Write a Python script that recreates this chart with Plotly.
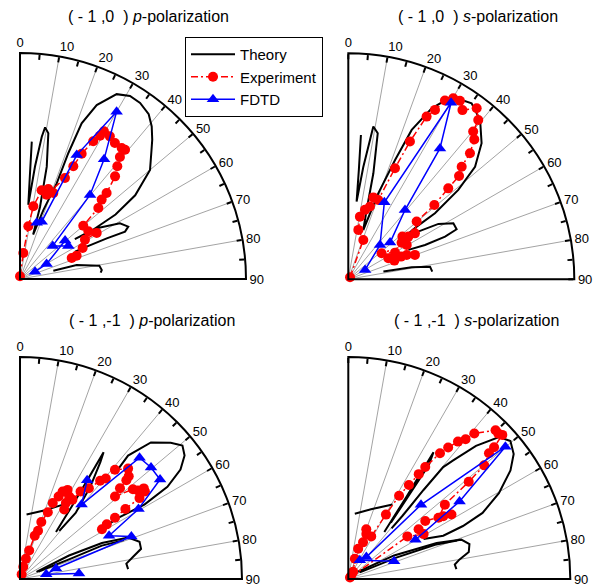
import plotly.graph_objects as go

# ---------------- data (theta in degrees from vertical, r normalised) ----------------
N = None
# Panel 1 : (-1,0) p-polarization
P1_THEORY_THETA = [4.9, 5.4, 6.4, 7.6, 8.7, 9.4, 11.0, 13.4, 15.5, 16.5, 18.7, 21.0, 21.0, 21.6, 23.8, 27.6, 31.0, 34.3, 38.0,
                   40.8, 43.5, 45.5, 50.0, 54.0, 56.0, 56.0, 54.0, 56.5, 60.9, 64.2, 65.7, 64.9, 64.1, 63.6, N,
                   76.0, 76.1, 80.5, 83.7, 85.5]
P1_THEORY_R = [0.610, 0.470, 0.330, 0.502, 0.637, 0.680, 0.657, 0.511, 0.332, 0.205, 0.322, 0.453, 0.596, 0.741, 0.841, 0.923,
               0.945, 0.943, 0.925, 0.892, 0.850, 0.816, 0.751, 0.630, 0.510, 0.390, 0.300, 0.407, 0.506, 0.532, 0.510,
               0.424, 0.328, 0.272, N, 0.152, 0.258, 0.356, 0.364, 0.358]
P1_EXP_THETA = [0, 7.3, 9.0, 10.4, 13.7, 17.5, 21.2, 17.5, 24.0, 25.3, 26.2, 28.0, 29.2, 29.6, 32.2, 34.9, 37.8, 39.1, 39.3,
                40.8, 42.8, 45.2, 45.8, 47.8, 49.9, 55.1, 59.0, 58.8, 63.7, 67.6, 67.9]
P1_EXP_R = [0.012, 0.116, 0.236, 0.327, 0.404, 0.417, 0.408, 0.391, 0.489, 0.552, 0.618, 0.690, 0.726, 0.752, 0.746, 0.734,
            0.734, 0.737, 0.698, 0.659, 0.619, 0.540, 0.504, 0.468, 0.366, 0.369, 0.396, 0.336, 0.309, 0.271, 0.247]
P1_FDTD_THETA = [16.5, 20.7, 24.6, 30.0, 35.1, 39.8, 44.7, 55.7, 49.6, 60.6, 63.9]
P1_FDTD_R = [0.260, 0.271, 0.603, 0.855, 0.647, 0.484, 0.206, 0.259, 0.262, 0.135, 0.074]

# Panel 2 : (-1,0) s-polarization
P2_THEORY_THETA = [5.0, 5.5, 6.1, 7.6, 9.3, 11.4, 13.3, 14.8, 16.9, 19.2, 21.4, 23.0, 26.0, 29.5, 35.0, 39.6, 44.4, 48.4,
                   50.9, 52.7, 52.4, 53.0, 58.4, 61.9, 65.2, 66.2, 65.9, 63.9, N, 77.6, 79.3, 81.2, 84.8]
P2_THEORY_R = [0.641, 0.490, 0.346, 0.500, 0.685, 0.659, 0.482, 0.317, 0.228, 0.403, 0.567, 0.718, 0.842, 0.929, 0.951,
               0.915, 0.843, 0.750, 0.627, 0.482, 0.382, 0.314, 0.468, 0.527, 0.528, 0.468, 0.372, 0.296, N,
               0.159, 0.285, 0.366, 0.373]
P2_EXP_THETA = [40, 20.9, 11.5, 10.5, 13.5, 16.6, 17.0, 20.7, 22.8, 24.1, 25.7, 27.1, 28.4, 30.1, 32.0, 34.0, 36.9, 39.2,
                40.2, 42.0, 44.0, 45.2, 47.0, 47.7, 49.2, 49.8, 55.4, 54.6, 51.7, 55.5, 59.5, 52.0, 60.3, 62.3, 67.9,
                66.7, 67.4, 69.9]
P2_EXP_R = [0.012, 0.186, 0.223, 0.282, 0.316, 0.336, 0.379, 0.375, 0.533, 0.668, 0.799, 0.842, 0.899, 0.926, 0.932, 0.903,
            0.946, 0.910, 0.856, 0.833, 0.775, 0.707, 0.670, 0.598, 0.503, 0.396, 0.358, 0.326, 0.305, 0.286, 0.300,
            0.187, 0.238, 0.200, 0.220, 0.254, 0.280, 0.314]
P2_FDTD_THETA = [60.8, 42.7, 25.1, 30.2, 35.0, 39.3, 48.7]
P2_FDTD_R = [0.085, 0.207, 0.376, 0.904, 0.707, 0.396, 0.246]

# Panel 3 : (-1,-1) p-polarization
P3_THEORY_THETA = [5.8, 20.0, 33.0, N, 37.4, 35.5, 34.4, 33.4, 34.5, 37.3, 40.1, 39.2, N,
                   42.0, 41.2, 43.8, 47.9, 50.6, 53.1, 55.7, 58.0, 59.1, 58.1, 58.5, N,
                   66.3, 64.4, 66.3, 69.0, 72.7, 76.0, 79.0, 81.8, 84.8, N, 68.0, 68.2, 67.8, 69.5]
P3_THEORY_R = [0.292, 0.330, 0.410, N, 0.267, 0.400, 0.522, 0.684, 0.639, 0.523, 0.389, 0.280, N,
               0.640, 0.739, 0.852, 0.915, 0.947, 0.927, 0.875, 0.783, 0.653, 0.521, 0.415, N,
               0.081, 0.245, 0.403, 0.522, 0.564, 0.562, 0.518, 0.484, 0.489, N, 0.090, 0.238, 0.398, 0.500]
P3_EXP_THETA = [19.7, 15.1, 16.2, 17.8, 18.8, 20.5, 20.5, 22.6, 23.3, 25.1, 26.0, 28.1, 30.8, 31.1, 32.5, 33.5, 34.7, 37.2,
                39.2, 40.5, 41.0, 44.4, 46.6, 47.1, 47.8, 49.0, 51.5, 53.1, 53.8, 55.0, 55.9, 56.4, 57.2, 57.8, 58.7]
P3_EXP_R = [0.022, 0.057, 0.095, 0.135, 0.206, 0.232, 0.274, 0.326, 0.373, 0.410, 0.438, 0.455, 0.433, 0.400, 0.371, 0.428,
            0.479, 0.513, 0.571, 0.595, 0.652, 0.696, 0.674, 0.654, 0.608, 0.567, 0.650, 0.664, 0.691, 0.687, 0.650,
            0.570, 0.509, 0.462, 0.432]
P3_FDTD_THETA = [34.2, 39.6, 44.6, 49.6, 54.6, 59.4, 64.1, 69.1, 73.8, 80.0, 84.6]
P3_FDTD_R = [0.538, 0.435, 0.767, 0.775, 0.774, 0.620, 0.446, 0.537, 0.169, 0.120, 0.267]

# Panel 4 : (-1,-1) s-polarization
P4_THEORY_THETA = [5.7, 18.0, 30.7, N, 37.4, 35.3, 33.9, 35.2, 35.8, 37.1, N,
                   40.5, 40.7, 40.2, 40.3, 41.5, 43.8, 46.7, 49.6, 52.9, 56.2, 60.3, 63.8, 65.2, 65.5, 62.0, N,
                   53.7, 62.8, 67.8, 70.8, 73.9, 77.4, 80.0, 82.3, 84.8, N, 60.0, 66.0, 68.5, 70.5]
P4_THEORY_R = [0.295, 0.330, 0.390, N, 0.267, 0.450, 0.688, 0.630, 0.490, 0.318, N,
               0.300, 0.373, 0.525, 0.661, 0.713, 0.831, 0.933, 0.959, 0.934, 0.879, 0.781, 0.674, 0.569, 0.470, 0.384, N,
               0.055, 0.232, 0.430, 0.539, 0.568, 0.556, 0.509, 0.484, 0.489, N, 0.060, 0.240, 0.420, 0.520]
P4_EXP_THETA = [45, 34.3, 17.9, 18.1, 21.9, 21.9, 19.9, 28.3, 30.3, 31.4, 32.8, 33.9, 34.5, 36.1, 37.2, 38.6, 40.0, 40.9,
                44.7, 45.9, 46.9, 47.9, 48.2, 50.1, 51.1, 52.4, 55.8, 58.0, 56.5, 53.0, 54.7, 59.2, 54.2, 50.0]
P4_EXP_R = [0.017, 0.039, 0.096, 0.143, 0.178, 0.218, 0.238, 0.218, 0.336, 0.439, 0.504, 0.569, 0.612, 0.701, 0.744, 0.792,
            0.822, 0.867, 0.943, 0.941, 0.950, 0.885, 0.850, 0.798, 0.697, 0.549, 0.491, 0.548, 0.513, 0.434, 0.388,
            0.395, 0.328, 0.010]
P4_FDTD_THETA = [68.9, 31.6, 39.4, 44.4, 49.9, 55.1, 59.7]
P4_FDTD_R = [0.221, 0.099, 0.128, 0.468, 0.925, 0.611, 0.350]

TITLES = ["( - 1 ,0  ) <i>p</i>-polarization", "( - 1 ,0  ) <i>s</i>-polarization",
          "( - 1 ,-1  ) <i>p</i>-polarization", "( - 1 ,-1  ) <i>s</i>-polarization"]
GRID_ANGLES = [0, 10, 20, 30, 40, 50, 60, 70, 80, 90]
TICK_VALS = list(range(0, 91, 5))
TICK_TEXT = [str(v) if v % 10 == 0 else "" for v in TICK_VALS]

PANELS = [
    (P1_THEORY_THETA, P1_THEORY_R, P1_EXP_THETA, P1_EXP_R, P1_FDTD_THETA, P1_FDTD_R),
    (P2_THEORY_THETA, P2_THEORY_R, P2_EXP_THETA, P2_EXP_R, P2_FDTD_THETA, P2_FDTD_R),
    (P3_THEORY_THETA, P3_THEORY_R, P3_EXP_THETA, P3_EXP_R, P3_FDTD_THETA, P3_FDTD_R),
    (P4_THEORY_THETA, P4_THEORY_R, P4_EXP_THETA, P4_EXP_R, P4_FDTD_THETA, P4_FDTD_R),
]

# ---------------- layout geometry (pixels) ----------------
W, H = 607, 588
GEOM = [(20, 279, 226), (348.3, 279.3, 226), (20, 579, 222), (348.3, 579, 222)]
TITLE_POS = [(148, 17), (478, 16), (152, 320), (476, 320)]

fig = go.Figure()
NBSP = "\u00a0"
DASHDOT = "7px,3px,2px,3px"

for i, (tt, tr, et, er, ft, fr) in enumerate(PANELS):
    sp = "polar" if i == 0 else f"polar{i+1}"
    gt, gr = [], []
    for a in GRID_ANGLES:
        gt += [a, a, None]
        gr += [0, 1, None]
    fig.add_trace(go.Scatterpolar(theta=gt, r=gr, mode="lines", subplot=sp,
                                  line=dict(color="#8c8c8c", width=0.8),
                                  hoverinfo="skip", showlegend=False))
    fig.add_trace(go.Scatterpolar(theta=tt, r=tr, mode="lines", subplot=sp, name="Theory",
                                  line=dict(color="black", width=2),
                                  showlegend=(i == 0)))
    fig.add_trace(go.Scatterpolar(theta=et, r=er, mode="lines+markers", subplot=sp, name="Experiment",
                                  line=dict(color="#ff0000", width=1.5, dash=DASHDOT),
                                  marker=dict(symbol="circle", size=10, color="#ff0000"),
                                  showlegend=(i == 0)))
    fig.add_trace(go.Scatterpolar(theta=ft, r=fr, mode="lines+markers", subplot=sp, name="FDTD",
                                  line=dict(color="#0000ff", width=1.5),
                                  marker=dict(symbol="triangle-up", size=11, color="#0000ff"),
                                  showlegend=(i == 0)))

layout = dict(width=W, height=H, margin=dict(l=0, r=0, t=0, b=0),
              paper_bgcolor="white", plot_bgcolor="white",
              font=dict(family="Liberation Sans, Arial, sans-serif", color="black"),
              legend=dict(x=185 / W, y=1 - 37 / H, xanchor="left", yanchor="top",
                          bgcolor="white", bordercolor="black", borderwidth=1,
                          font=dict(size=15), tracegroupgap=0, itemwidth=44),
              annotations=[])

for i, (ox, oy, rad) in enumerate(GEOM):
    key = "polar" if i == 0 else f"polar{i+1}"
    layout[key] = dict(
        domain=dict(x=[ox / W, (ox + rad) / W], y=[1 - oy / H, 1 - (oy - rad) / H]),
        sector=[0, 90], bgcolor="white",
        angularaxis=dict(rotation=90, direction="clockwise", tickvals=TICK_VALS, ticktext=TICK_TEXT,
                         ticks="inside", ticklen=5, tickwidth=1.5, tickcolor="black",
                         showline=True, linecolor="black", linewidth=2, showgrid=False,
                         tickfont=dict(size=13, color="black")),
        radialaxis=dict(range=[0, 1], showticklabels=False, ticks="", showgrid=False, showline=False),
    )
    tx, ty = TITLE_POS[i]
    layout["annotations"].append(dict(text=TITLES[i].replace(" ", NBSP),
                                      x=tx / W, y=1 - ty / H, xref="paper", yref="paper",
                                      xanchor="center", yanchor="middle", showarrow=False,
                                      font=dict(size=16, color="black")))

fig.update_layout(**layout)
fig.write_html("out.html", config={"displayModeBar": False},
               post_script="document.body.style.margin='0px';document.body.style.overflow='hidden';")
